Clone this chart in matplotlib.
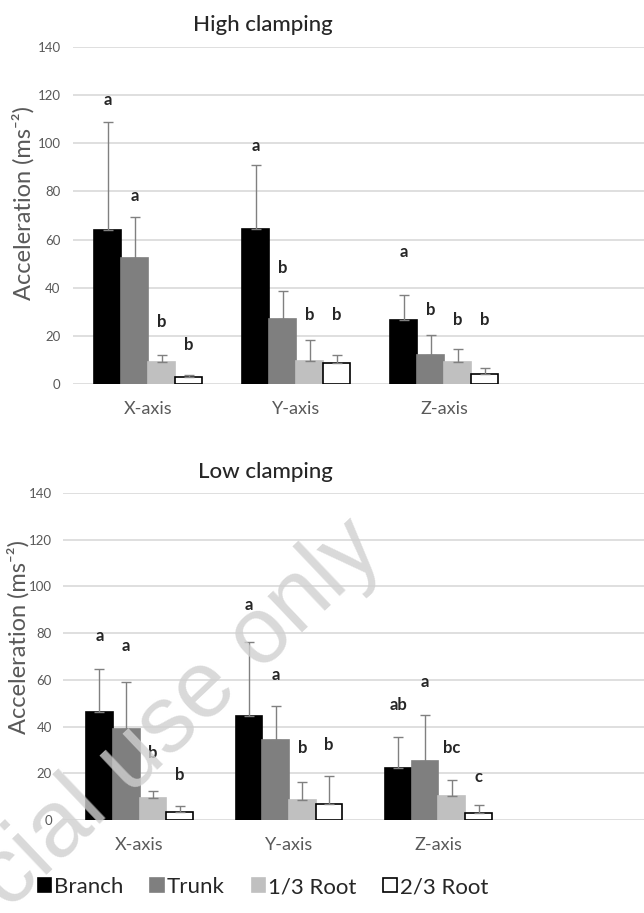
import numpy as np
import matplotlib.pyplot as plt
from matplotlib.patches import Patch

plt.rcParams['font.family'] = ['Lato', 'DejaVu Sans']

categories = ['X-axis', 'Y-axis', 'Z-axis']
series = ['Branch', 'Trunk', '1/3 Root', '2/3 Root']

# high clamping: mean and sd per series (X, Y, Z)
high_branch = [64.0, 64.3, 26.4]
high_trunk = [52.2, 26.9, 12.2]
high_root13 = [9.0, 9.5, 9.0]
high_root23 = [2.9, 8.7, 4.3]
high_branch_sd = [44.9, 26.8, 10.6]
high_trunk_sd = [17.0, 11.9, 8.3]
high_root13_sd = [3.2, 8.9, 5.5]
high_root23_sd = [1.0, 3.5, 2.5]
high_letters = [['a', 'a', 'b', 'b'], ['a', 'b', 'b', 'b'], ['a', 'b', 'b', 'b']]
high_letter_y = [[118, 78, 25.6, 16.3], [99, 48, 28.7, 28.7], [54.7, 30.8, 26.4, 26.4]]

# low clamping
low_branch = [46.4, 44.6, 22.1]
low_trunk = [38.9, 34.3, 25.3]
low_root13 = [9.6, 8.6, 10.3]
low_root23 = [3.6, 6.9, 2.9]
low_branch_sd = [18.2, 31.7, 13.6]
low_trunk_sd = [20.0, 14.3, 19.7]
low_root13_sd = [3.0, 7.8, 6.8]
low_root23_sd = [2.4, 12.0, 3.4]
low_letters = [['a', 'a', 'b', 'b'], ['a', 'a', 'b', 'b'], ['ab', 'a', 'bc', 'c']]
low_letter_y = [[78.6, 74.3, 28.6, 19.3], [91.9, 61.9, 30.7, 32.1], [49.3, 58.9, 30.7, 18.3]]

face = ['black', '#7f7f7f', '#c0c0c0', 'white']
edge = ['black', '#7f7f7f', '#c0c0c0', 'black']
W, H = 644, 913

fig = plt.figure(figsize=(W / 100, H / 100), dpi=100)


def panel(left_px, y0_px, y140_px, first_px, step_px, bar_px, means, sds, letters, letter_y,
          title, title_xy, lab_xy, ypad):
    ax = fig.add_axes([left_px / W, 1 - y0_px / H, 1 - left_px / W, (y0_px - y140_px) / H])
    x = np.arange(len(categories))
    bw = bar_px / step_px
    for i in range(4):
        xs = x + (i - 1.5) * bw
        ax.bar(xs, means[i], bw, color=face[i], edgecolor=edge[i], linewidth=1.2, zorder=3)
        ax.errorbar(xs, means[i], yerr=[np.zeros(3), sds[i]], fmt='none', ecolor='#808080',
                    elinewidth=1, capsize=3.5, capthick=1, zorder=4)
        for j in range(3):
            ax.text(xs[j], letter_y[j][i], letters[j][i], ha='center', va='center',
                    fontsize=12, fontweight='bold', color='#262626', zorder=5)
    off = (first_px - left_px) / step_px
    ax.set_xlim(-off, -off + (W - left_px) / step_px)
    ax.set_ylim(0, 140)
    ax.set_yticks(range(0, 141, 20))
    ax.set_xticks(x)
    ax.set_xticklabels(categories, fontsize=13, color='#595959')
    ax.tick_params(axis='x', length=0, pad=12)
    ax.tick_params(axis='y', length=0, pad=ypad, labelsize=9.5, labelcolor='#595959')
    ax.grid(axis='y', color='#d9d9d9', linewidth=1.2, zorder=0)
    for s in ['top', 'right', 'left', 'bottom']:
        ax.spines[s].set_visible(False)
    ax.set_ylabel('Acceleration (ms⁻²)', fontsize=17, color='#595959')
    ax.yaxis.set_label_coords(*lab_xy)
    fig.text(title_xy[0] / W, 1 - title_xy[1] / H, title, ha='center', va='center',
             fontsize=16, fontweight='medium', color='#262626')
    return ax


panel(73, 384, 47, 148, 148, 27,
      [high_branch, high_trunk, high_root13, high_root23],
      [high_branch_sd, high_trunk_sd, high_root13_sd, high_root23_sd],
      high_letters, high_letter_y, 'High clamping', (263, 25), (-0.068, 0.537), 9)

panel(63, 820, 493, 139.5, 149.5, 26.7,
      [low_branch, low_trunk, low_root13, low_root23],
      [low_branch_sd, low_trunk_sd, low_root13_sd, low_root23_sd],
      low_letters, low_letter_y, 'Low clamping', (265, 472), (-0.058, 0.56), 8)

handles = [Patch(facecolor=face[i], edgecolor=edge[i], linewidth=1.2) for i in range(4)]
fig.legend(handles, series, loc='center', bbox_to_anchor=(263 / W, 1 - 887 / H), ncol=4,
           frameon=False, fontsize=16, handlelength=0.6, handleheight=0.6,
           handletextpad=0.15, columnspacing=1.2, labelcolor='#262626')

# watermark, only its visible part
fig.text(8 / W, 1 - 911 / H, 'cial use only', rotation=43.5, ha='left',
         va='baseline', rotation_mode='anchor', fontsize=68, family='Liberation Sans',
         color='#d0d0d0', alpha=0.8, zorder=10)

fig.savefig('out.png', dpi=100)
